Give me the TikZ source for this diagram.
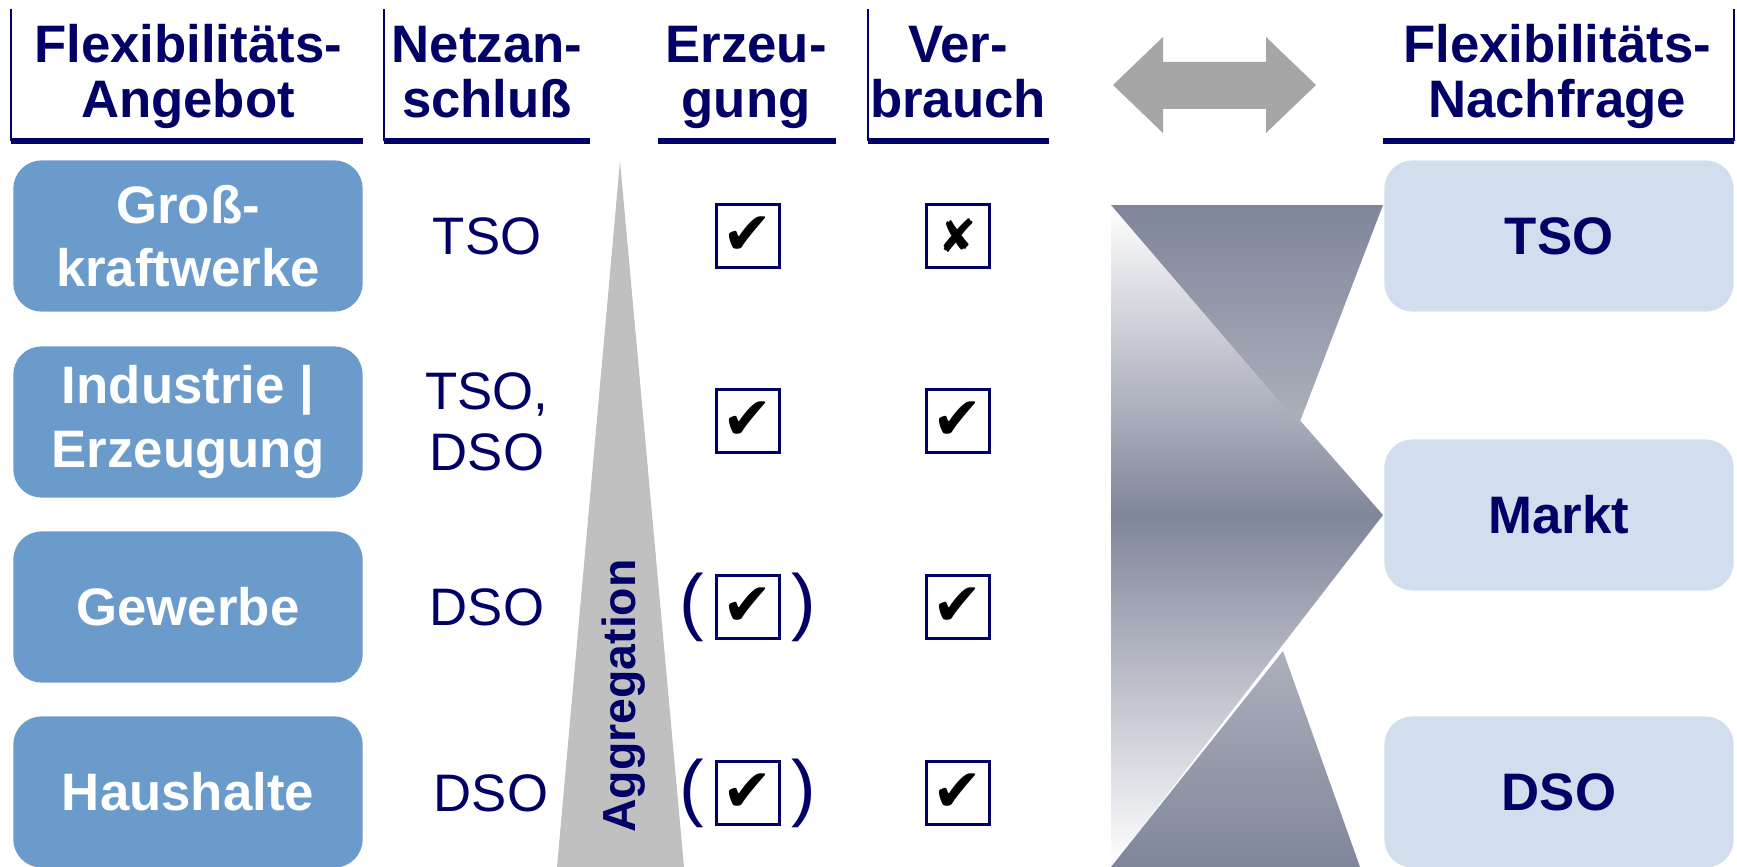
\documentclass[tikz,border=0pt]{standalone}
\usepackage{fontspec}
\setmainfont{Liberation Sans}
\newfontfamily\symfont{DejaVu Sans}
\usetikzlibrary{positioning}

\definecolor{navy}{RGB}{0,0,102}
\definecolor{offerblue}{RGB}{106,155,203}
\definecolor{demandblue}{RGB}{210,222,237}
\definecolor{funneldark}{RGB}{128,134,154}
\definecolor{funnellight}{RGB}{172,176,188}
\definecolor{arrowgray}{RGB}{166,166,166}
\definecolor{aggrgray}{RGB}{192,192,192}

\begin{document}
\begin{tikzpicture}[x=0.01cm,y=-0.01cm,
  head/.style={inner sep=0pt, text height=26.8pt, text depth=3.3pt, text=navy, align=center,
    font=\bfseries\fontsize{15}{15.6}\selectfont},
  offer/.style={rounded corners=0.28cm, fill=offerblue, minimum width=3.49cm, minimum height=1.51cm,
    text=white, align=center, font=\bfseries\fontsize{15}{18}\selectfont},
  demand/.style={offer, fill=demandblue, text=navy},
  cell/.style={text=navy, align=center, font=\fontsize{15}{17.3}\selectfont},
  tickbox/.style={draw=navy, line width=0.9pt, minimum size=0.63cm, inner sep=0pt,
    font=\symfont\fontsize{17}{17}\selectfont},
  paren/.style={text=navy, inner sep=0pt, font=\fontsize{21}{21}\selectfont}
]
\useasboundingbox (0,0) rectangle (1737,867);

% column heads
\node[head] (hoffer) at (188,76) {Flexibilitäts-\\Angebot};
\node[head] (hnet)   at (487,76) {Netzan-\\schluß};
\node[head] (hgen)   at (746,76) {Erzeu-\\gung};
\node[head] (huse)   at (958,76) {Ver-\\brauch};
\node[head] (hdem)   at (1557,76) {Flexibilitäts-\\Nachfrage};

\foreach \a/\b in {11/363, 384/590, 658/836, 868/1049, 1383/1734} {
\draw[navy, line width=1.6pt] (\a,141) -- (\b,141);
}
\foreach \a in {11, 384, 868, 1734} {
\draw[navy, line width=0.6pt] (\a,9) -- (\a,141);
}

% double arrow between offer and demand
\fill[arrowgray] (1113,85) -- (1163,37) -- (1163,62) -- (1266,62) -- (1266,37) -- (1316,85)
  -- (1266,133) -- (1266,109) -- (1163,109) -- (1163,133) -- cycle;

% aggregation wedge
\fill[aggrgray] (620,161) -- (684,867) -- (557,867) -- cycle;
\node[rotate=90, text=navy, font=\bfseries\fontsize{13.2}{14}\selectfont] (aggr) at (624,696) {Aggregation};

% offer side
\node[offer] (gross)     at (188,236) {Groß-\\kraftwerke};
\node[offer] (industrie) at (188,422) {Industrie |\\Erzeugung};
\node[offer] (gewerbe)   at (188,607) {Gewerbe};
\node[offer] (haushalte) at (188,792) {Haushalte};

\node[cell] (net1) at (487,236) {TSO};
\node[cell] (net2) at (487,422) {TSO,\\DSO};
\node[cell] (net3) at (487,607) {DSO};
\node[cell] (net4) at (491,793) {DSO};

\foreach \i/\y in {1/236, 2/421, 3/607, 4/793} {
\node[tickbox] (gen\i) at (748,\y) {✔};
}
\foreach \i/\y/\s in {1/236/{\fontsize{13}{13}\selectfont ✘}, 2/421/✔, 3/607/✔, 4/793/✔} {
\node[tickbox] (use\i) at (958,\y) {\s};
}
\foreach \i in {3,4} {
\node[paren, left=0.1cm of gen\i] (lp\i) {(};
\node[paren, right=0.1cm of gen\i] (rp\i) {)};
}

% funnel towards the demand side
\shade[top color=white, bottom color=funneldark] (1111,205) -- (1383,515) -- (1111,515) -- cycle;
\shade[top color=funneldark, bottom color=funnellight] (1111,205) -- (1383,205) -- (1299,424) -- cycle;
\shade[top color=funneldark, bottom color=white] (1111,515) -- (1383,515) -- (1111,867) -- cycle;
\shade[top color=funnellight, bottom color=funneldark] (1283,651) -- (1360,867) -- (1111,867) -- cycle;

% demand side
\node[demand] (dtso)  at (1559,236) {TSO};
\node[demand] (markt) at (1559,515) {Markt};
\node[demand] (ddso)  at (1559,792) {DSO};
\end{tikzpicture}
\end{document}
